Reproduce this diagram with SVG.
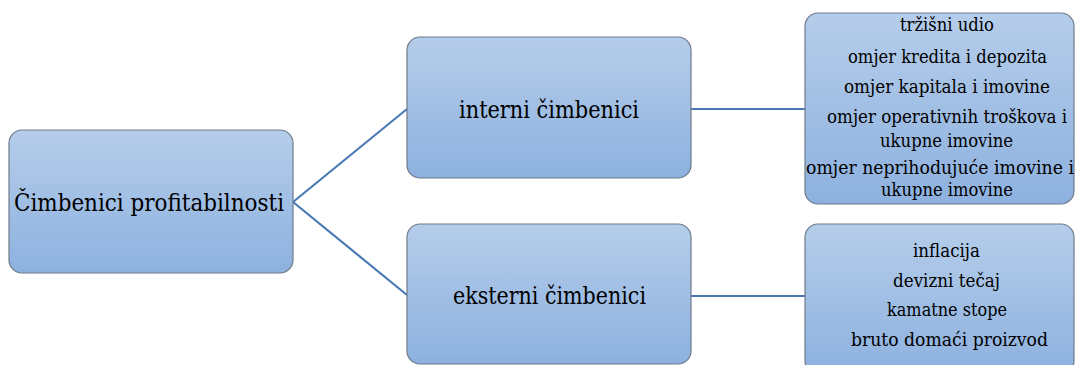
<svg xmlns="http://www.w3.org/2000/svg" width="1075" height="365" viewBox="0 0 1075 365">
<defs>
<linearGradient id="g" x1="0" y1="0" x2="0" y2="1">
<stop offset="0" stop-color="#b5cdea"/>
<stop offset="1" stop-color="#8db1df"/>
</linearGradient>
<style>
.box{fill:url(#g);stroke:#6e7b89;stroke-width:1.2}
.big{font-family:"DejaVu Serif Condensed","DejaVu Serif",serif;font-size:25px;fill:#000;text-anchor:middle}
.sm{font-family:"DejaVu Serif Condensed","DejaVu Serif",serif;font-size:19px;fill:#000;text-anchor:middle}
.con{stroke:#4a7ab4;stroke-width:2.2;fill:none}
</style>
</defs>
<rect width="1075" height="365" fill="#fff"/>
<g id="connectors">
<path class="con" d="M293,202 L407,109"/>
<path class="con" d="M293,202 L407,295"/>
<path class="con" d="M691,109 L805,109"/>
<path class="con" d="M691,296 L805,296"/>
</g>
<g id="root">
<rect class="box" x="9" y="130" width="284" height="143" rx="13"/>
<text class="big" x="149" y="211" textLength="270" lengthAdjust="spacingAndGlyphs">Čimbenici profitabilnosti</text>
</g>
<g id="interni">
<rect class="box" x="407" y="37" width="284" height="141" rx="13"/>
<text class="big" x="549" y="118" textLength="180" lengthAdjust="spacingAndGlyphs">interni čimbenici</text>
</g>
<g id="eksterni">
<rect class="box" x="407" y="224" width="284" height="140" rx="13"/>
<text class="big" x="549.5" y="304" textLength="193" lengthAdjust="spacingAndGlyphs">eksterni čimbenici</text>
</g>
<g id="interni-list">
<rect class="box" x="805" y="13" width="269" height="191" rx="13"/>
<text class="sm" x="947" y="31" textLength="94" lengthAdjust="spacingAndGlyphs">tržišni udio</text>
<text class="sm" x="947.5" y="63" textLength="199" lengthAdjust="spacingAndGlyphs">omjer kredita i depozita</text>
<text class="sm" x="947" y="93" textLength="206" lengthAdjust="spacingAndGlyphs">omjer kapitala i imovine</text>
<text class="sm" x="947" y="123" textLength="240" lengthAdjust="spacingAndGlyphs">omjer operativnih troškova i</text>
<text class="sm" x="946.5" y="147" textLength="133" lengthAdjust="spacingAndGlyphs">ukupne imovine</text>
<text class="sm" x="940" y="174" textLength="268" lengthAdjust="spacingAndGlyphs">omjer neprihodujuće imovine i</text>
<text class="sm" x="947" y="196" textLength="132" lengthAdjust="spacingAndGlyphs">ukupne imovine</text>
</g>
<g id="eksterni-list">
<rect class="box" x="805" y="224" width="269" height="150" rx="13"/>
<text class="sm" x="946.5" y="257" textLength="67" lengthAdjust="spacingAndGlyphs">inflacija</text>
<text class="sm" x="946.5" y="287" textLength="107" lengthAdjust="spacingAndGlyphs">devizni tečaj</text>
<text class="sm" x="947" y="316" textLength="120" lengthAdjust="spacingAndGlyphs">kamatne stope</text>
<text class="sm" x="949.5" y="346" textLength="197" lengthAdjust="spacingAndGlyphs">bruto domaći proizvod</text>
</g>
</svg>
